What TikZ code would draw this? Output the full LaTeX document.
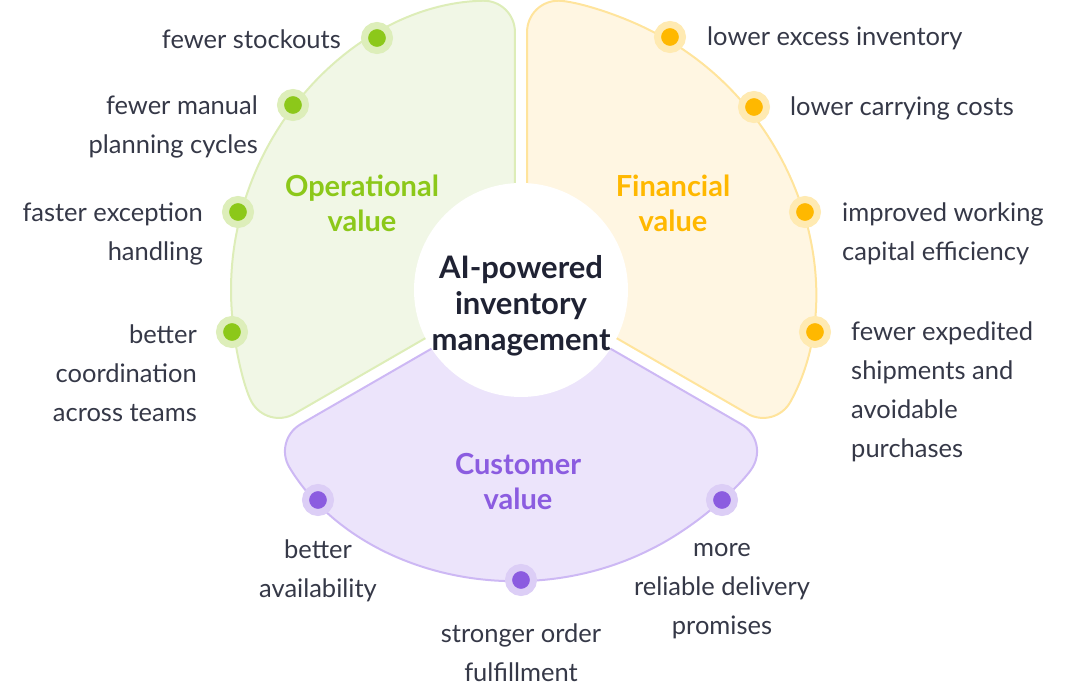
\documentclass[tikz,border=0pt]{standalone}
\usepackage{fontspec}
\setmainfont{Lato}
\usetikzlibrary{calc}
\definecolor{gA}{HTML}{8CC81A}
\definecolor{gF}{HTML}{F1F7E6}
\definecolor{gS}{HTML}{DDEDB8}
\definecolor{oA}{HTML}{FFB800}
\definecolor{oF}{HTML}{FFF6E2}
\definecolor{oS}{HTML}{FFE49C}
\definecolor{pA}{HTML}{8B5CE0}
\definecolor{pF}{HTML}{ECE4FB}
\definecolor{pS}{HTML}{CDB8F4}
\definecolor{ink}{HTML}{1F2233}
\tikzset{
 lbl/.style={font=\fontsize{25.5}{39}\selectfont, text=ink!90, inner sep=0pt},
 ttl/.style={font=\fontsize{29}{35}\selectfont\bfseries, align=center, inner sep=0pt},
 dot/.style={circle, fill=#1, minimum size=25pt, inner sep=0pt, draw=#1!30, line width=7pt},
}
\begin{document}
\begin{tikzpicture}[x=1pt,y=1pt]
\useasboundingbox (0,0) rectangle (1070,687);
\coordinate (C) at (521,397);
\foreach \a/\b/\f/\s in {90/210/gF/gS, 210/330/pF/pS, -30/90/oF/oS}{
  \pgfmathsetmacro\m{(\a+\b)/2}
  \pgfmathsetmacro\sa{\a+1.2}
  \pgfmathsetmacro\sb{\b-1.2}
  \draw[rounded corners=32, fill=\f, draw=\s, line width=2pt]
    ($(C)+(\m:7)$) -- ($(C)+(\sa:290)$) arc[start angle=\sa, end angle=\sb, radius=290] -- cycle;
}
\node[circle, fill=white, minimum size=214pt, inner sep=0pt] (hub) at (C) {};
\node[ttl, text=ink, font=\fontsize{31}{36}\selectfont\bfseries] (hubt) at (521,381) {AI-powered\\inventory\\management};
\node[ttl, text=gA] (t1) at (362,484) {Operational\\value};
\node[ttl, text=oA] (t2) at (673,484) {Financial\\value};
\node[ttl, text=pA] (t3) at (518,205) {Customer\\value};
% green
\node[dot=gA] (g1) at (377,649) {};
\node[dot=gA] (g2) at (293,582) {};
\node[dot=gA] (g3) at (238,475) {};
\node[dot=gA] (g4) at (232,355) {};
\node[lbl, anchor=east] (lg1) at (341,648) {fewer stockouts};
\node[lbl, anchor=east, align=right] (lg2) at (258,560) {fewer manual\\planning cycles};
\node[lbl, anchor=east, align=right] (lg3) at (203,453) {faster exception\\handling};
\node[lbl, anchor=east, align=right] (lg4) at (197,314) {better\\coordination\\across teams};
% orange
\node[dot=oA] (o1) at (670,650) {};
\node[dot=oA] (o2) at (754,580) {};
\node[dot=oA] (o3) at (805,475) {};
\node[dot=oA] (o4) at (815,355) {};
\node[lbl, anchor=west] (lo1) at (707,649) {lower excess inventory};
\node[lbl, anchor=west] (lo2) at (790,579) {lower carrying costs};
\node[lbl, anchor=west, align=left] (lo3) at (842,453) {improved working\\capital efficiency};
\node[lbl, anchor=west, align=left] (lo4) at (851,295) {fewer expedited\\shipments and\\avoidable\\purchases};
% purple
\node[dot=pA] (p1) at (318,187) {};
\node[dot=pA] (p2) at (521,107) {};
\node[dot=pA] (p3) at (722,187) {};
\node[lbl, align=center] (lp1) at (318,116) {better\\availability};
\node[lbl, align=center] (lp2) at (521,34) {stronger order\\fulfillment};
\node[lbl, align=center] (lp3) at (722,96) {more\\reliable delivery\\promises};
\end{tikzpicture}
\end{document}
